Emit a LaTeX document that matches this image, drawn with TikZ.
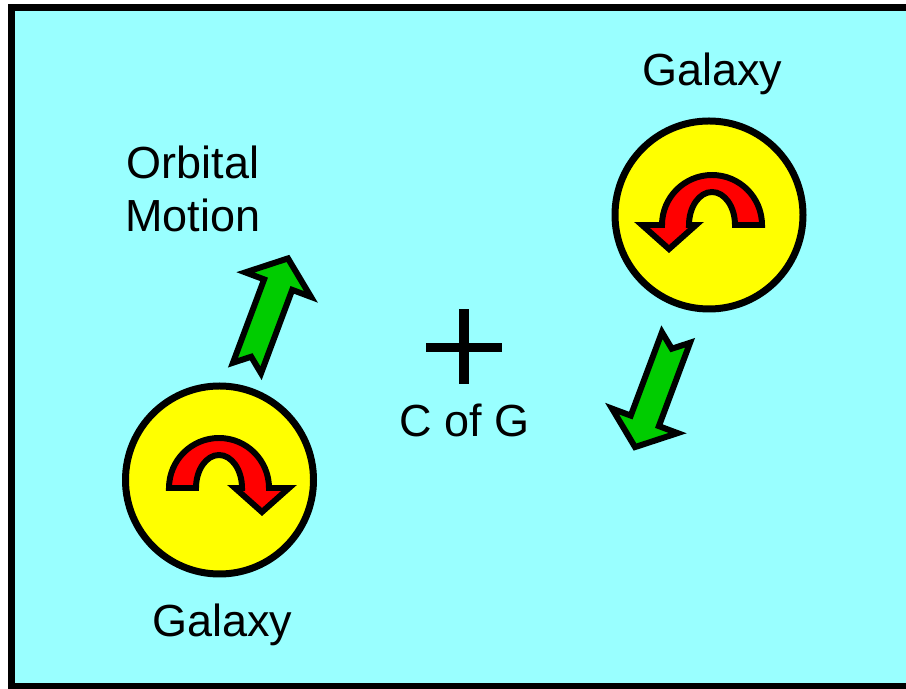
\documentclass[tikz,border=0pt]{standalone}
\usepackage{fontspec}
\setmainfont{Liberation Sans}
\usepackage{tikz}
\definecolor{skycyan}{HTML}{99FFFF}
\definecolor{galaxyyellow}{HTML}{FFFF00}
\definecolor{spinred}{HTML}{FF0000}
\definecolor{orbitgreen}{HTML}{00CC00}

\tikzset{
  spinarrow/.pic={
    \filldraw[fill=spinred,draw=black,line width=3.4pt,line join=miter]
      (-50,0) arc[start angle=180,end angle=0,radius=50]
      -- (70,0) -- (43,-24) -- (16,0) -- (23,0)
      arc[start angle=0,end angle=180,x radius=23,y radius=33] -- cycle;
  },
  orbitarrow/.pic={
    \filldraw[fill=orbitgreen,draw=black,line width=3.4pt,line join=miter]
      (0,15) -- (12,0) -- (0,-15) -- (89,-15) -- (89,-35) -- (117,0)
      -- (89,35) -- (89,15) -- cycle;
  }
}

\begin{document}
\begin{tikzpicture}[x=0.02cm,y=0.02cm,
    lbl/.style={inner sep=0pt,font=\fontsize{25.6}{30.2}\selectfont},
    galaxy/.style={fill=galaxyyellow,draw=black,line width=3.98pt}]
  \useasboundingbox[fill=white] (0,0) rectangle (906,689);
  % frame, its right side lies beyond the page
  \fill[skycyan] (11.5,2.5) rectangle (906,681.5);
  \draw[line width=3.98pt] (906,681.5) -- (11.5,681.5) -- (11.5,2.5) -- (906,2.5);
  % galaxies
  \draw[galaxy] (219.5,209) circle (94);
  \draw[galaxy] (709,474) circle (94);
  \pic at (219,201) {spinarrow};
  \pic[xscale=-1] at (712,464) {spinarrow};
  % orbital motion
  \pic[rotate=69.5] at (247,321) {orbitarrow};
  \pic[rotate=249.5] at (676,351.5) {orbitarrow};
  % centre of gravity
  \coordinate (cog) at (464,341.5);
  \draw[line width=5.4pt] (cog) ++(-38,0) -- ++(76,0);
  \draw[line width=5.4pt] (cog) ++(0,38) -- ++(0,-75);
  % labels
  \node[lbl,anchor=base] (cogtext) at (464.5,252) {C of G};
  \node[lbl,anchor=base] (galaxyright) at (712,603) {Galaxy};
  \node[lbl,anchor=base] (galaxyleft) at (222.5,52) {Galaxy};
  \node[lbl,anchor=north,align=center] (orbittext) at (193,543) {Orbital\\Motion};
\end{tikzpicture}
\end{document}
